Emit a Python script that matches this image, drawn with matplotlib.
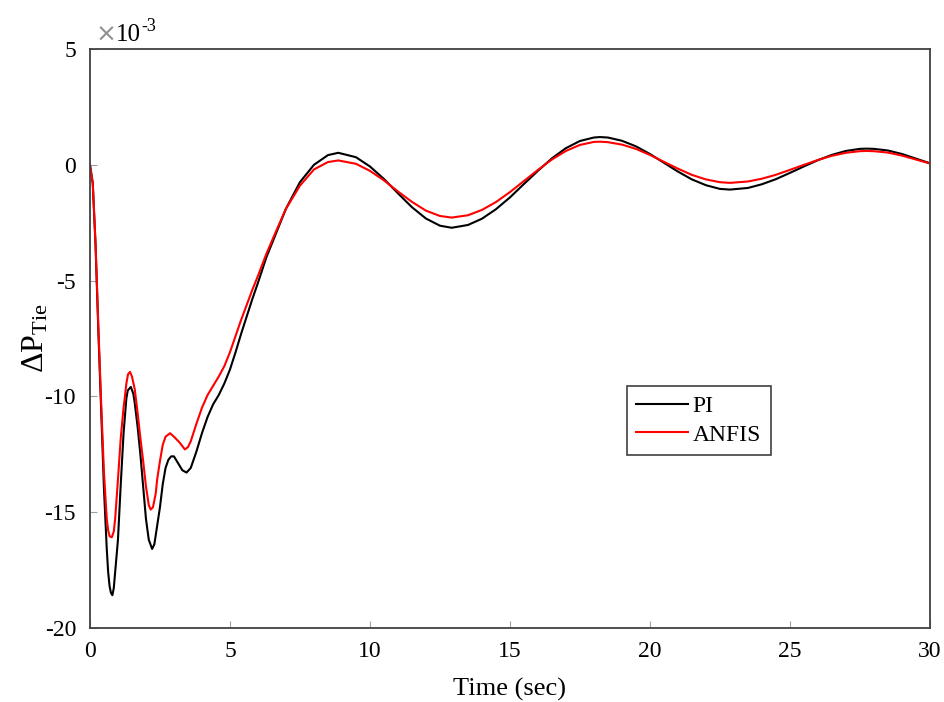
import numpy as np
import matplotlib
matplotlib.use("Agg")
import matplotlib.pyplot as plt

plt.rcParams['font.family'] = ['Liberation Serif', 'DejaVu Serif']
plt.rcParams['mathtext.fontset'] = 'custom'
plt.rcParams['mathtext.rm'] = 'Liberation Serif'
plt.rcParams['mathtext.it'] = 'Liberation Serif:italic'
plt.rcParams['axes.unicode_minus'] = False

# time (sec) and tie-line power deviation (x 1e-3)
t_pi = [0, 0.1, 0.2, 0.3, 0.4, 0.5, 0.6, 0.65, 0.7, 0.75, 0.8, 0.85, 0.9, 1.0,
        1.1, 1.2, 1.3, 1.35, 1.46, 1.55, 1.6, 1.7, 1.8, 1.9, 2.0, 2.1, 2.22, 2.3,
        2.4, 2.5, 2.6, 2.7, 2.8, 2.9, 3.0, 3.2, 3.3, 3.45, 3.6, 3.8, 4.0, 4.2,
        4.4, 4.6, 4.8, 5.0, 5.2, 5.4, 5.6, 5.8, 6.0, 6.3, 6.6, 7.0, 7.5, 8.0, 8.5,
        8.87, 9.5, 10, 10.5, 11, 11.5, 12, 12.5, 12.92, 13.5, 14, 14.5, 15, 15.5,
        16, 16.5, 17, 17.5, 18, 18.21, 18.5, 19, 19.5, 20, 20.5, 21, 21.5, 22,
        22.5, 22.86, 23.5, 24, 24.5, 25, 25.5, 26, 26.5, 27, 27.5, 27.74, 28,
        28.5, 29, 29.5, 30]
pi_ctrl = [0, -0.8, -3.5, -7.2, -10.6, -14.0, -16.6, -17.6, -18.2, -18.5, -18.6,
           -18.3, -17.6, -16.2, -13.8, -11.6, -10.1, -9.75, -9.6, -9.9, -10.3,
           -11.3, -12.5, -13.9, -15.3, -16.2, -16.6, -16.4, -15.6, -14.8, -13.8,
           -13.1, -12.75, -12.6, -12.6, -13.0, -13.2, -13.3, -13.1, -12.4, -11.6,
           -10.9, -10.35, -9.95, -9.45, -8.85, -8.1, -7.3, -6.55, -5.8, -5.1, -4.0,
           -3.1, -1.9, -0.75, 0.0, 0.42, 0.52, 0.33, -0.07, -0.61, -1.23, -1.83,
           -2.32, -2.63, -2.72, -2.60, -2.33, -1.92, -1.41, -0.83, -0.26, 0.28,
           0.72, 1.03, 1.18, 1.2, 1.18, 1.04, 0.80, 0.47, 0.09, -0.29, -0.63,
           -0.88, -1.04, -1.07, -1.0, -0.84, -0.62, -0.35, -0.07, 0.20, 0.43, 0.60,
           0.69, 0.7, 0.69, 0.62, 0.47, 0.27, 0.07]

t_anfis = [0, 0.1, 0.2, 0.3, 0.4, 0.5, 0.6, 0.65, 0.7, 0.78, 0.85, 0.9, 1.0, 1.1,
           1.2, 1.25, 1.3, 1.36, 1.43, 1.5, 1.6, 1.7, 1.8, 1.9, 2.0, 2.1, 2.17,
           2.25, 2.35, 2.4, 2.5, 2.6, 2.7, 2.86, 3.0, 3.2, 3.39, 3.5, 3.6, 3.8,
           4.0, 4.2, 4.4, 4.6, 4.8, 5.0, 5.2, 5.4, 5.6, 5.8, 6.0, 6.3, 6.6, 7.0,
           7.5, 8.0, 8.5, 8.87, 9.5, 10, 10.5, 11, 11.5, 12, 12.5, 12.92, 13.5, 14,
           14.5, 15, 15.5, 16, 16.5, 17, 17.5, 18, 18.21, 18.5, 19, 19.5, 20, 20.5,
           21, 21.5, 22, 22.5, 22.86, 23.5, 24, 24.5, 25, 25.5, 26, 26.5, 27, 27.5,
           27.74, 28, 28.5, 29, 29.5, 30]
anfis = [0, -0.8, -3.4, -7.0, -10.3, -13.3, -15.3, -15.8, -16.05, -16.1, -15.85,
         -15.3, -13.6, -11.8, -10.5, -10.0, -9.45, -9.05, -8.95, -9.15, -9.7,
         -10.7, -11.8, -12.8, -13.9, -14.7, -14.9, -14.8, -14.2, -13.6, -12.8,
         -12.1, -11.75, -11.6, -11.75, -12.0, -12.3, -12.2, -11.95, -11.2, -10.5,
         -9.95, -9.55, -9.15, -8.7, -8.1, -7.4, -6.7, -6.05, -5.4, -4.8, -3.85,
         -3.0, -1.9, -0.9, -0.2, 0.12, 0.19, 0.045, -0.26, -0.67, -1.15, -1.60,
         -1.98, -2.21, -2.28, -2.18, -1.95, -1.61, -1.18, -0.70, -0.22, 0.23,
         0.60, 0.86, 0.99, 1.0, 0.98, 0.875, 0.69, 0.43, 0.13, -0.165, -0.435,
         -0.63, -0.75, -0.78, -0.72, -0.60, -0.43, -0.22, 0.0, 0.21, 0.39, 0.52,
         0.59, 0.6, 0.59, 0.53, 0.40, 0.23, 0.06]

x_ticks = [0, 5, 10, 15, 20, 25, 30]
y_ticks = [-20, -15, -10, -5, 0, 5]

fig = plt.figure(figsize=(9.44, 7.02), dpi=100)
ax = fig.add_axes([0.0953, 0.106, 0.8897, 0.824])

ax.plot(t_pi, pi_ctrl, color='black', lw=1.5, label='PI')
ax.plot(t_anfis, anfis, color='red', lw=1.5, label='ANFIS')

ax.set_xlim(0, 30)
ax.set_ylim(-20, 5)
ax.set_xticks(x_ticks)
ax.set_yticks(y_ticks)
ax.tick_params(direction='in', length=5, color='#a0a0a0', labelsize=17,
               pad=10)
for s in ax.spines.values():
    s.set_color('#404040')
    s.set_linewidth(1.3)

ax.set_xlabel('Time (sec)', fontsize=19, labelpad=11)
ax.set_ylabel(r'$\Delta\mathrm{P}_{\mathrm{Tie}}$', fontsize=23, labelpad=-4)

# MATLAB style exponent above the axis
ax.annotate('\u00d7', xy=(0, 1), xycoords='axes fraction', xytext=(4, 2),
            textcoords='offset points', fontsize=18, color='#909090',
            family='DejaVu Sans', va='bottom')
ax.annotate('10', xy=(0, 1), xycoords='axes fraction', xytext=(19, 2),
            textcoords='offset points', fontsize=18, va='bottom')
ax.annotate('-3', xy=(0, 1), xycoords='axes fraction', xytext=(37, 10),
            textcoords='offset points', fontsize=13, va='bottom')

leg = ax.legend(loc='upper left', bbox_to_anchor=(0.639, 0.4175),
                borderaxespad=0, fontsize=17, fancybox=False, framealpha=1,
                edgecolor='#404040', handlelength=2.2, handletextpad=0.2,
                borderpad=0.4, labelspacing=0.3)
leg.get_frame().set_linewidth(1.2)

fig.savefig('out.png', dpi=100)
